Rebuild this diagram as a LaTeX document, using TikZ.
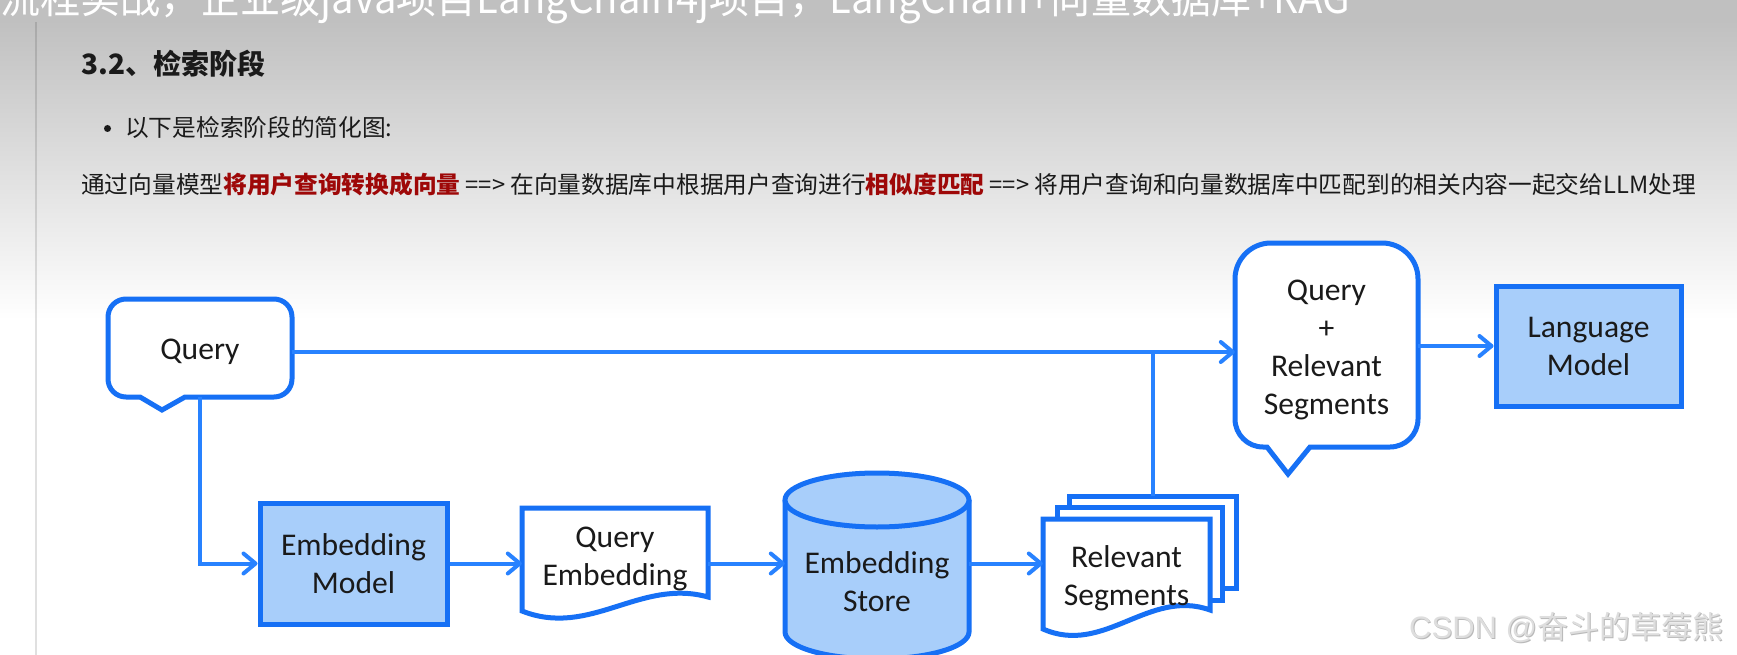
\documentclass[tikz,border=0pt]{standalone}
\usepackage{fontspec}
\setmainfont{Carlito}
\newfontfamily\cjk{Noto Sans CJK SC}
\newfontfamily\wmlatin{Liberation Sans}
\usetikzlibrary{arrows.meta,calc}
\definecolor{boxblue}{RGB}{22,112,245}
\definecolor{linkblue}{RGB}{40,130,255}
\definecolor{boxfill}{RGB}{168,206,250}
\definecolor{txt}{RGB}{26,26,26}
\definecolor{hired}{RGB}{158,8,8}
\definecolor{bgtop}{RGB}{192,192,192}
\definecolor{wmgray}{RGB}{222,222,222}
\definecolor{wmshade}{RGB}{185,185,185}
\newcommand\diagfont{\fontsize{31.6}{38}\selectfont}
\begin{document}
\begin{tikzpicture}[x=1pt,y=-1pt,
  outline/.style={draw=boxblue,line width=5pt,fill=white},
  box/.style={draw=boxblue,line width=5pt,fill=boxfill,minimum width=187pt,minimum height=121pt,inner sep=0pt,align=center,font=\diagfont,text=txt},
  ghost/.style={inner sep=0pt,align=center,font=\diagfont,text=txt},
  link/.style={draw=linkblue,line width=4pt},
  conn/.style={link,-{Straight Barb[length=12pt,width=20pt,round]}},
  plain/.style={anchor=base west,inner sep=0pt,text=txt},
]
\clip (0,0) rectangle (1737,655);
\fill[white] (0,0) rectangle (1737,655);
\fill[bgtop] (0,0) rectangle (1737,20);
\shade[top color=bgtop,bottom color=white] (0,20) rectangle (1737,320);
\draw[black,opacity=0.12,line width=1.5pt] (36,22) -- (36,655);

% page texts
\node[plain,text=white,font=\cjk\fontsize{42}{42}\selectfont] (title) at (0,14) {\resizebox{1350pt}{\height}{流程实战，企业级java项目LangChain4j项目，LangChain+向量数据库+RAG}};
\node[plain,font=\cjk\bfseries\fontsize{28}{28}\selectfont] (head) at (81,75) {3.2、检索阶段};
\fill[txt] (107.5,128.5) circle (3.5pt);
\node[plain,font=\cjk\fontsize{23.7}{24}\selectfont] (bul) at (125,137) {以下是检索阶段的简化图:};
\node[plain,font=\cjk\fontsize{23.7}{24}\selectfont] (desc) at (81,194) {通过向量模型\textbf{\color{hired}将用户查询转换成向量} ==> 在向量数据库中根据用户查询进行\textbf{\color{hired}相似度匹配} ==> 将用户查询和向量数据库中匹配到的相关内容一起交给LLM处理};

% Query bubble
\draw[outline] (162,410) -- (140,397) [rounded corners=18pt] -- (108,397) -- (108,299) -- (292,299) -- (292,397) [sharp corners] -- (185,397) -- cycle;
\node[ghost,minimum width=184pt,minimum height=90pt] (q) at (200,352) {Query};

% Embedding model
\node[box] (em) at (353.5,563.5) {Embedding\\Model};

% Query embedding document
\draw[outline] (522,611) -- (522,508) -- (708,508) -- (708,597) .. controls (640,578) and (590,638) .. (522,611) -- cycle;
\node[ghost,minimum width=186pt] (qe) at (615,559) {Query\\Embedding};

% Embedding store cylinder
\draw[outline,fill=boxfill] (785,500) -- (785,632) .. controls (785,647) and (826,659) .. (877,659) .. controls (928,659) and (969,647) .. (969,632) -- (969,500);
\draw[outline,fill=boxfill] (877,500) ellipse [x radius=92pt,y radius=27pt];
\node[ghost,minimum width=184pt] (es) at (877,582) {Embedding\\Store};

% Relevant segments stack
\draw[outline] (1069,496) rectangle (1236,588);
\draw[outline] (1057,507) rectangle (1222,600);
\draw[outline] (1043,629) -- (1043,519) -- (1210,519) -- (1210,610) .. controls (1149,588) and (1104,656) .. (1043,629) -- cycle;
\node[ghost,minimum width=167pt] (rs) at (1126.5,578) {Relevant\\Segments};
\coordinate (rstop) at (1153,496);

% Query + Relevant Segments bubble
\draw[outline] (1288,474) -- (1267,447) [rounded corners=28pt] -- (1235,447) [rounded corners=36pt] -- (1235,243) -- (1418,243) [rounded corners=28pt] -- (1418,447) [sharp corners] -- (1310,447) -- cycle;
\node[ghost,minimum width=183pt,minimum height=204pt] (qr) at (1326.5,350) {Query\\+\\Relevant\\Segments};

% Language model
\node[box,minimum width=185pt,minimum height=120pt] (lm) at (1588.5,346) {Language\\Model};

% connectors
\draw[conn] (q.east) -- (q.east -| qr.west);
\draw[link] (rstop) -- (rstop |- q.east);
\draw[conn] (q.south) |- (em.west);
\draw[conn] (em.east) -- (em.east -| qe.west);
\draw[conn] (em.east -| qe.east) -- (em.east -| es.west);
\draw[conn] (em.east -| es.east) -- (em.east -| rs.west);
\draw[conn] (lm.west -| qr.east) -- (lm.west);

% watermark
\node[plain,text=wmshade,font=\fontsize{31}{31}\selectfont] (wmshadow) at (1410,639) {{\wmlatin CSDN @}{\cjk 奋斗的草莓熊}};
\node[plain,text=wmgray,font=\fontsize{31}{31}\selectfont] (wm) at (1409,638) {{\wmlatin CSDN @}{\cjk 奋斗的草莓熊}};
\end{tikzpicture}
\end{document}
